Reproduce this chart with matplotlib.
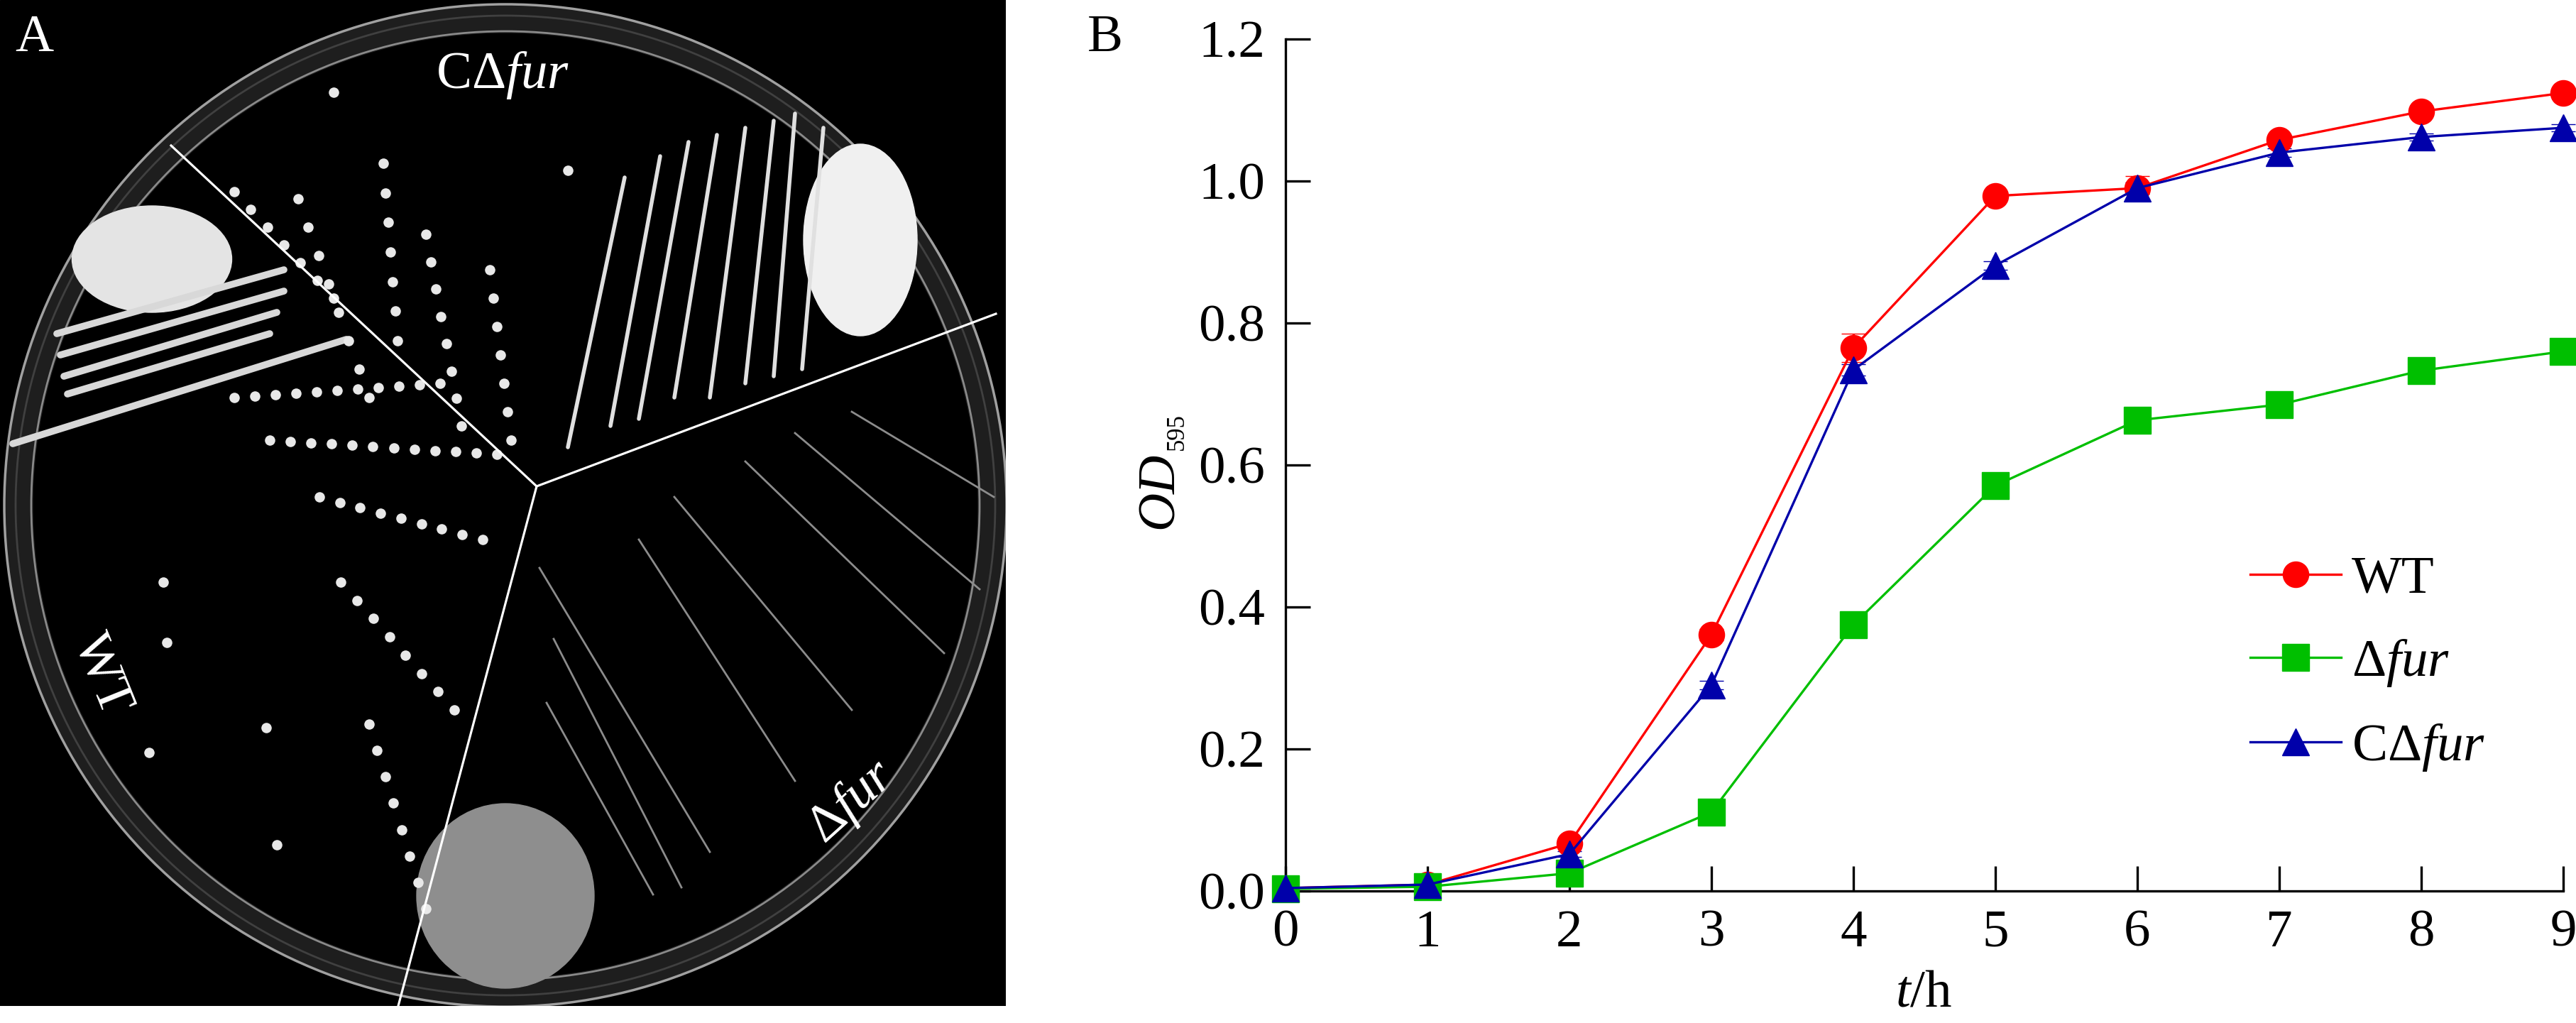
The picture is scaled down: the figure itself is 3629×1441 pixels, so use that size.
import numpy as np
import matplotlib
matplotlib.use("Agg")
import matplotlib.pyplot as plt
from matplotlib.patches import Circle, Ellipse, Rectangle, Wedge
from matplotlib.lines import Line2D

plt.rcParams['font.family'] = ['Liberation Serif', 'DejaVu Serif']
plt.rcParams['mathtext.fontset'] = 'custom'
plt.rcParams['mathtext.rm'] = 'Liberation Serif'
plt.rcParams['mathtext.it'] = 'Liberation Serif:italic'

# ---- growth curve data (panel B) ----
hours = [0, 1, 2, 3, 4, 5, 6, 7, 8, 9]
wt = [0.004, 0.009, 0.067, 0.361, 0.765, 0.979, 0.990, 1.058, 1.098, 1.124]
wt_err = [0.002, 0.004, 0.006, 0.008, 0.020, 0.006, 0.017, 0.006, 0.005, 0.005]
dfur = [0.003, 0.006, 0.025, 0.111, 0.375, 0.571, 0.663, 0.685, 0.733, 0.760]
dfur_err = [0.002, 0.002, 0.003, 0.004, 0.006, 0.006, 0.006, 0.006, 0.005, 0.005]
cdfur = [0.004, 0.009, 0.052, 0.290, 0.734, 0.881, 0.990, 1.040, 1.062, 1.075]
cdfur_err = [0.002, 0.002, 0.004, 0.006, 0.008, 0.006, 0.008, 0.006, 0.005, 0.005]

labels = ['WT', r'Δ$\mathit{fur}$', r'CΔ$\mathit{fur}$']
colors = ['#ff0000', '#00bf00', '#0000aa']
markers = ['o', 's', '^']

W, H = 3630, 1441
fig = plt.figure(figsize=(W / 100, H / 100), dpi=100)


def fx(x):
    return x / W


def fy(y):
    return 1 - y / H


FS = 54

# ---- panel A: schematic of the plate ----
axA = fig.add_axes([0, fy(1417), fx(1417), 1417 / H])
axA.set_xlim(0, 1417)
axA.set_ylim(1417, 0)
axA.set_axis_off()
axA.add_patch(Rectangle((0, 0), 1417, 1417, color='black', zorder=0))

cx, cy = 712, 712
axA.add_patch(Wedge((cx, cy), 706, 0, 360, width=40, color='#1e1e1e', zorder=1))
axA.add_patch(Circle((cx, cy), 706, fill=False, ec='#a0a0a0', lw=2.5, zorder=2))
axA.add_patch(Circle((cx, cy), 668, fill=False, ec='#8a8a8a', lw=2, zorder=2))
axA.add_patch(Circle((cx, cy), 690, fill=False, ec='#404040', lw=2, zorder=2))

# large smears
blobs = [((214, 365), 225, 150, '#e4e4e4'),
         ((1212, 338), 160, 270, '#f0f0f0'),
         ((712, 1262), 250, 260, '#8e8e8e')]
for (bx, by), bw, bh, bc in blobs:
    axA.add_patch(Ellipse((bx, by), bw, bh, color=bc, zorder=3))

# streaks
streaks_wt = [(80, 470, 400, 380), (85, 500, 400, 410), (90, 530, 390, 440),
              (95, 555, 380, 470), (18, 625, 488, 478)]
for x0, y0, x1, y1 in streaks_wt:
    axA.plot([x0, x1], [y0, y1], color='#d8d8d8', lw=7, solid_capstyle='round', zorder=3)

streaks_c = [(880, 250, 800, 630), (930, 220, 860, 600), (970, 200, 900, 590),
             (1010, 190, 950, 560), (1050, 180, 1000, 560), (1090, 170, 1050, 540),
             (1120, 160, 1090, 530), (1160, 180, 1130, 520)]
for x0, y0, x1, y1 in streaks_c:
    axA.plot([x0, x1], [y0, y1], color='#e0e0e0', lw=4, solid_capstyle='round', zorder=3)

streaks_d = [(760, 800, 1000, 1200), (780, 900, 960, 1250), (770, 990, 920, 1260),
             (900, 760, 1120, 1100), (950, 700, 1200, 1000), (1050, 650, 1330, 920),
             (1120, 610, 1380, 830), (1200, 580, 1400, 700)]
for x0, y0, x1, y1 in streaks_d:
    axA.plot([x0, x1], [y0, y1], color='#8c8c8c', lw=2, zorder=3)

colony_rows = [(330, 560, 620, 540, 11), (380, 620, 700, 640, 12), (450, 700, 680, 760, 9),
               (480, 820, 640, 1000, 8), (520, 1020, 600, 1280, 8),
               (330, 270, 470, 420, 7), (420, 280, 520, 560, 8), (540, 230, 560, 480, 7),
               (600, 330, 650, 600, 8), (690, 380, 720, 620, 7)]
for x0, y0, x1, y1, n in colony_rows:
    axA.scatter(np.linspace(x0, x1, n), np.linspace(y0, y1, n), s=110,
                color='#e8e8e8', lw=0, zorder=3)
singles_x = [230, 235, 210, 375, 390, 470, 800]
singles_y = [820, 905, 1060, 1025, 1190, 130, 240]
axA.scatter(singles_x, singles_y, s=110, color='#e8e8e8', lw=0, zorder=3)

# sector lines
center = (756, 685)
for ex, ey in [(241, 205), (1403, 442), (561, 1417)]:
    axA.plot([center[0], ex], [center[1], ey], color='white', lw=2.3, zorder=4)

axA.text(21, 72, 'A', color='white', fontsize=FS, va='baseline', zorder=5)
axA.text(708, 124, r'CΔ$\mathit{fur}$', color='white', fontsize=FS, ha='center',
         va='baseline', zorder=5)
axA.text(143, 950, 'WT', color='white', fontsize=FS, ha='center', va='center',
         rotation=-68, rotation_mode='anchor', zorder=5)
axA.text(1200, 1130, r'Δ$\mathit{fur}$', color='white', fontsize=FS, ha='center',
         va='center', rotation=42, rotation_mode='anchor', zorder=5)

# ---- panel B: growth curves ----
ax = fig.add_axes([fx(1811), fy(1255), 1800 / W, 1200 / H])
series = [(wt, wt_err), (dfur, dfur_err), (cdfur, cdfur_err)]
sizes = [26, 27, 28]
for (vals, errs), lab, c, m, ms in zip(series, labels, colors, markers, sizes):
    ax.errorbar(hours, vals, yerr=errs, color=c, marker=m, ms=ms, mec=c, mew=1,
                lw=2.4, elinewidth=2.4, capsize=12, capthick=2.4, label=lab,
                clip_on=False, zorder=3)

ax.set_xlim(0, 9)
ax.set_ylim(0, 1.2)
ax.set_xticks(hours)
ax.set_yticks([0, 0.2, 0.4, 0.6, 0.8, 1.0, 1.2])
ax.set_yticklabels([f"{v:.1f}" for v in [0, 0.2, 0.4, 0.6, 0.8, 1.0, 1.2]])
ax.spines['top'].set_visible(False)
ax.spines['right'].set_visible(False)
for s in ['left', 'bottom']:
    ax.spines[s].set_linewidth(2.4)
ax.tick_params(axis='both', direction='in', length=25, width=2.4, labelsize=FS)
ax.tick_params(axis='x', pad=19)
ax.tick_params(axis='y', pad=21)

handles = [Line2D([], [], color=c, marker=m, ms=ms, mec=c, lw=2.4)
           for c, m, ms in zip(colors, markers, sizes)]
ax.legend(handles, labels, loc='center left', bbox_to_anchor=(0.755, 0.266),
          frameon=False, fontsize=FS, handlelength=1.71, handletextpad=0.2,
          labelspacing=0.63, borderpad=0, borderaxespad=0, numpoints=1)

fig.text(fx(1532), fy(72), 'B', fontsize=FS, va='baseline')
fig.text(fx(1652), fy(691), 'OD', fontsize=FS, style='italic', rotation=90,
         rotation_mode='anchor', ha='center', va='baseline')
fig.text(fx(1667), fy(608), '595', fontsize=25, rotation=90,
         rotation_mode='anchor', ha='center', va='baseline')
fig.text(fx(2710), fy(1417), r'$\mathit{t}$/h', fontsize=FS, ha='center', va='baseline')

fig.savefig('out.png', dpi=100)
